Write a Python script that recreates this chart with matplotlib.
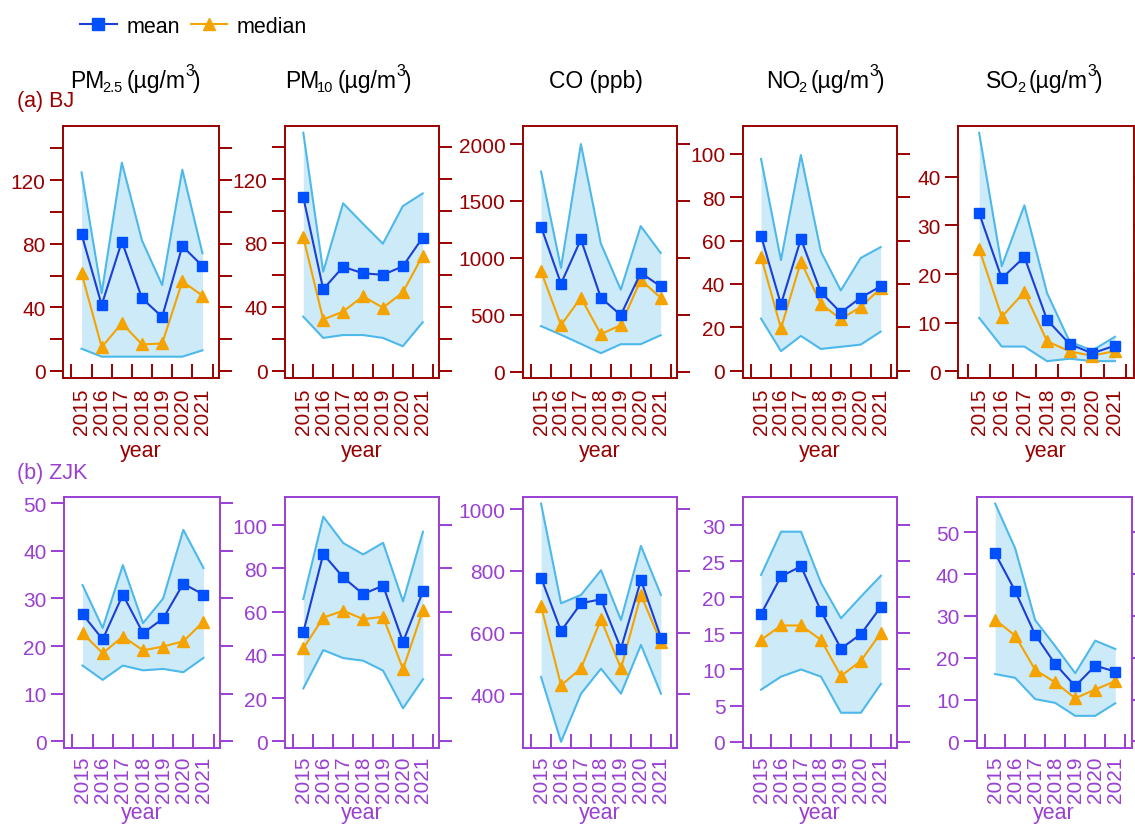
import matplotlib
matplotlib.use('Agg')
import matplotlib.pyplot as plt
from matplotlib.lines import Line2D

plt.rcParams['font.family'] = ['Liberation Sans', 'DejaVu Sans']

# ---------------- data ----------------
years = [2015, 2016, 2017, 2018, 2019, 2020, 2021]
year_labels = ['2015', '2016', '2017', '2018', '2019', '2020', '2021']
# column titles as (main, subscript, unit, superscript)
title_species = ['PM', 'PM', 'CO (ppb)', 'NO', 'SO']
title_subs = ['2.5', '10', '', '2', '2']
title_units = ['(µg/m', '(µg/m', '', '(µg/m', '(µg/m']
title_sups = ['3', '3', '', '3', '3']
site_labels = ['(a) BJ', '(b) ZJK']
x_label = 'year'
legend_labels = ['mean', 'median']

# BJ
bj_pm25_mean = [86, 41.5, 81.4, 45.7, 34, 78.5, 66]
bj_pm25_median = [61.5, 15, 30, 16.7, 17.3, 56.3, 47.4]
bj_pm25_upper = [124.8, 49, 131, 82, 54, 126.5, 74]
bj_pm25_lower = [14, 9, 9, 9, 9, 9, 13]

bj_pm10_mean = [108.6, 51, 65, 61, 60, 65.3, 83.3]
bj_pm10_median = [83.5, 32, 37, 46.6, 39.4, 49, 72]
bj_pm10_upper = [149, 62, 104.8, 92, 79.5, 103, 111]
bj_pm10_lower = [33.8, 20.5, 22.3, 22.3, 20.5, 15.3, 30.3]

bj_co_mean = [1274, 773, 1162, 650, 497, 868, 750]
bj_co_median = [882, 409, 650, 329, 409, 806, 650]
bj_co_upper = [1759, 912, 2000, 1126, 720, 1279, 1044]
bj_co_lower = [400, 324, 244, 162, 241, 241, 320]

bj_no2_mean = [62.2, 30.6, 60.8, 36.2, 26.8, 33.7, 38.9]
bj_no2_median = [52.6, 19.5, 50.3, 30.8, 23.8, 29.4, 38]
bj_no2_upper = [97.7, 51, 99.5, 55, 37, 52, 57]
bj_no2_lower = [24, 9, 16, 10, 11, 12, 18]

bj_so2_mean = [32.5, 19.1, 23.5, 10.6, 5.6, 3.7, 5.3]
bj_so2_median = [25.2, 11.2, 16.3, 6.2, 4.1, 3.2, 4.2]
bj_so2_upper = [49, 21.6, 34.1, 16.1, 6.1, 4.3, 7.1]
bj_so2_lower = [11, 5.1, 5.1, 2.1, 2.6, 2.1, 2.1]

# ZJK
zjk_pm25_mean = [26.7, 21.4, 30.8, 22.7, 25.8, 33.1, 30.8]
zjk_pm25_median = [22.7, 18.5, 22, 19.1, 19.9, 21, 25.1]
zjk_pm25_upper = [32.8, 23.8, 37, 24.8, 30, 44.4, 36.4]
zjk_pm25_lower = [15.9, 12.9, 15.9, 14.9, 15.2, 14.5, 17.5]

zjk_pm10_mean = [50.5, 86.6, 75.8, 68.1, 72, 46, 69.3]
zjk_pm10_median = [43, 57.2, 60.4, 56.5, 57.6, 33.4, 60.7]
zjk_pm10_upper = [65.8, 103.9, 91.7, 86.4, 91.8, 64.7, 96.9]
zjk_pm10_lower = [24.5, 42.2, 38.5, 37.3, 32.7, 15.3, 28.7]

zjk_co_mean = [778, 605, 695, 708, 548, 770, 584]
zjk_co_median = [686, 429, 484, 643, 484, 722, 568]
zjk_co_upper = [1018, 695, 722, 802, 641, 881, 722]
zjk_co_lower = [456, 246, 402, 483, 402, 560, 402]

zjk_no2_mean = [17.7, 22.9, 24.3, 18.1, 12.9, 14.9, 18.7]
zjk_no2_median = [14.1, 16.1, 16.1, 14.1, 9.1, 11.2, 15.1]
zjk_no2_upper = [23.1, 29.1, 29.1, 22, 17.1, 20.1, 23]
zjk_no2_lower = [7.2, 9, 10, 9, 4, 4, 8]

zjk_so2_mean = [45, 36, 25.5, 18.5, 13.2, 18.1, 16.7]
zjk_so2_median = [29.1, 25.3, 17.1, 14.1, 10.3, 12.4, 14.4]
zjk_so2_upper = [56.9, 46.2, 29, 22.8, 16.3, 24.1, 22.1]
zjk_so2_lower = [16.1, 15.2, 10.1, 9.2, 6.1, 6.1, 9.1]

# y tick values / labels
bj_pm25_ticks = [0, 20, 40, 60, 80, 100, 120, 140]
bj_pm25_ticklabels = ['0', '', '40', '', '80', '', '120', '']
bj_pm10_ticks = [0, 20, 40, 60, 80, 100, 120, 140]
bj_pm10_ticklabels = ['0', '', '40', '', '80', '', '120', '']
bj_co_ticks = [0, 500, 1000, 1500, 2000]
bj_co_ticklabels = ['0', '500', '1000', '1500', '2000']
bj_no2_ticks = [0, 20, 40, 60, 80, 100]
bj_no2_ticklabels = ['0', '20', '40', '60', '80', '100']
bj_so2_ticks = [0, 10, 20, 30, 40]
bj_so2_ticklabels = ['0', '10', '20', '30', '40']

zjk_pm25_ticks = [0, 10, 20, 30, 40, 50]
zjk_pm25_ticklabels = ['0', '10', '20', '30', '40', '50']
zjk_pm10_ticks = [0, 20, 40, 60, 80, 100]
zjk_pm10_ticklabels = ['0', '20', '40', '60', '80', '100']
zjk_co_ticks = [400, 600, 800, 1000]
zjk_co_ticklabels = ['400', '600', '800', '1000']
zjk_no2_ticks = [0, 5, 10, 15, 20, 25, 30]
zjk_no2_ticklabels = ['0', '5', '10', '15', '20', '25', '30']
zjk_so2_ticks = [0, 10, 20, 30, 40, 50]
zjk_so2_ticklabels = ['0', '10', '20', '30', '40', '50']

# ---------------- style ----------------
BJ_C = '#990000'
ZJK_C = '#9a3fd2'
FILL = '#cdeaf8'
BAND = '#4db8ea'
MEAN_LINE = '#1a3fd6'
MEAN_MK = '#0050ff'
MED_C = '#f5a300'

W, H = 1135, 829
fig = plt.figure(figsize=(W / 100, H / 100), dpi=100)


def add_ax(l, t, r, b):
    return fig.add_axes([l / W, 1 - b / H, (r - l) / W, (b - t) / H])


def draw(ax, color, mean, median, upper, lower, ylim, yticks, yticklabels,
         xpad, lpad):
    ax.fill_between(years, lower, upper, color=FILL, lw=0, zorder=1)
    ax.plot(years, upper, color=BAND, lw=1.5, zorder=2)
    ax.plot(years, lower, color=BAND, lw=1.5, zorder=2)
    ax.plot(years, median, color=MED_C, lw=1.5, marker='^', ms=8,
            mfc=MED_C, mec=MED_C, zorder=3)
    ax.plot(years, mean, color=MEAN_LINE, lw=1.5, marker='s', ms=7,
            mfc=MEAN_MK, mec=MEAN_MK, zorder=4)
    ax.set_xlim(2014.08, 2021.82)
    ax.set_ylim(*ylim)
    ax.set_xticks(years)
    ax.set_xticklabels(year_labels, rotation=90)
    ax.set_xticks([y - 0.5 for y in years] + [years[-1] + 0.5], minor=True)
    ax.tick_params(axis='x', which='major', length=0, pad=xpad,
                   labelsize=15, labelcolor=color)
    ax.tick_params(axis='x', which='minor', direction='in', length=10,
                   width=1.4, color=color, top=False)
    ax.set_yticks(yticks)
    ax.set_yticklabels(yticklabels)
    ax.tick_params(axis='y', which='major', direction='out', length=9.5,
                   width=1.4, color=color, labelcolor=color, labelsize=15,
                   right=True, labelright=False, pad=3)
    for s in ax.spines.values():
        s.set_color(color)
        s.set_linewidth(1.4)
    ax.set_xlabel(x_label, color=color, fontsize=15.5, labelpad=lpad)


top_pos = [(63, 127, 219, 379), (285, 127, 439, 379), (522.7, 127, 677, 379),
           (742.7, 127, 897, 379), (958.3, 127, 1133.5, 379)]
bot_pos = [(64, 497.5, 220, 749.3), (285, 497.5, 439.3, 749.3),
           (522.7, 497.5, 677.3, 749.3), (742.7, 497.5, 897.3, 749.3),
           (976.7, 497.5, 1131.7, 749.3)]

bj_sets = [
    (bj_pm25_mean, bj_pm25_median, bj_pm25_upper, bj_pm25_lower, (-4.4, 154), bj_pm25_ticks, bj_pm25_ticklabels),
    (bj_pm10_mean, bj_pm10_median, bj_pm10_upper, bj_pm10_lower, (-4.6, 153.2), bj_pm10_ticks, bj_pm10_ticklabels),
    (bj_co_mean, bj_co_median, bj_co_upper, bj_co_lower, (-56, 2159), bj_co_ticks, bj_co_ticklabels),
    (bj_no2_mean, bj_no2_median, bj_no2_upper, bj_no2_lower, (-3.4, 112.9), bj_no2_ticks, bj_no2_ticklabels),
    (bj_so2_mean, bj_so2_median, bj_so2_upper, bj_so2_lower, (-1.36, 50.4), bj_so2_ticks, bj_so2_ticklabels),
]
zjk_sets = [
    (zjk_pm25_mean, zjk_pm25_median, zjk_pm25_upper, zjk_pm25_lower, (-1.47, 51.4), zjk_pm25_ticks, zjk_pm25_ticklabels),
    (zjk_pm10_mean, zjk_pm10_median, zjk_pm10_upper, zjk_pm10_lower, (-3.2, 113.2), zjk_pm10_ticks, zjk_pm10_ticklabels),
    (zjk_co_mean, zjk_co_median, zjk_co_upper, zjk_co_lower, (225, 1041), zjk_co_ticks, zjk_co_ticklabels),
    (zjk_no2_mean, zjk_no2_median, zjk_no2_upper, zjk_no2_lower, (-0.93, 33.98), zjk_no2_ticks, zjk_no2_ticklabels),
    (zjk_so2_mean, zjk_so2_median, zjk_so2_upper, zjk_so2_lower, (-1.67, 58.6), zjk_so2_ticks, zjk_so2_ticklabels),
]

for pos, d in zip(top_pos, bj_sets):
    ax = add_ax(*pos)
    draw(ax, BJ_C, *d, xpad=7, lpad=4)
for pos, d in zip(bot_pos, zjk_sets):
    ax = add_ax(*pos)
    draw(ax, ZJK_C, *d, xpad=5, lpad=0)

# ---------------- column titles (built from pieces) ----------------
renderer = fig.canvas.get_renderer()
MAIN_FS, SUB_FS, SUP_FS = 16.5, 10.5, 11.5
BASE_Y = 88  # baseline, px from top


def place_title(cx, pieces):
    # pieces: (text, fontsize, dy_px (up), gap_px before)
    widths = []
    for txt, fs, dy, gap in pieces:
        t = fig.text(0, 0, txt, fontsize=fs)
        widths.append(t.get_window_extent(renderer).width)
        t.remove()
    total = sum(widths) + sum(p[3] for p in pieces)
    x = cx - total / 2
    for (txt, fs, dy, gap), w in zip(pieces, widths):
        x += gap
        fig.text(x / W, 1 - (BASE_Y - dy) / H, txt, fontsize=fs,
                 ha='left', va='baseline', color='black')
        x += w


title_cx = [135, 348, 596, 825, 1044]
for cx, sp, sb, un, su in zip(title_cx, title_species, title_subs,
                              title_units, title_sups):
    if sb == '':
        place_title(cx, [(sp, MAIN_FS, 0, 0)])
    else:
        place_title(cx, [(sp, MAIN_FS, 0, 0), (sb, SUB_FS, -4, -2),
                         (un, MAIN_FS, 0, 4), (su, SUP_FS, 12, 0),
                         (')', MAIN_FS, 0, -2)])

# site labels
fig.text(17 / W, 1 - 107 / H, site_labels[0], ha='left', va='baseline',
         fontsize=15.5, color=BJ_C)
fig.text(17 / W, 1 - 479 / H, site_labels[1], ha='left', va='baseline',
         fontsize=15.5, color=ZJK_C)

# legend
handles = [
    Line2D([], [], color=MEAN_LINE, lw=1.5, marker='s', ms=8.5, mfc=MEAN_MK, mec=MEAN_MK),
    Line2D([], [], color=MED_C, lw=1.5, marker='^', ms=9, mfc=MED_C, mec=MED_C),
]
fig.legend(handles, legend_labels, loc='upper left',
           bbox_to_anchor=(80 / W, 1 - 17 / H), ncol=2, frameon=False,
           fontsize=15.5, handlelength=1.7, handletextpad=0.45,
           columnspacing=0.5, borderpad=0, borderaxespad=0)

fig.savefig('out.png', dpi=100)
